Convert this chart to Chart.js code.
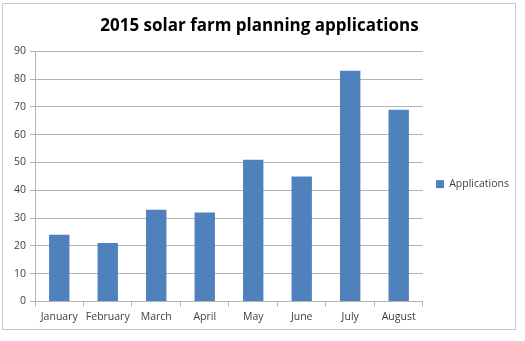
<!DOCTYPE html>
<html lang="en">
<head>
<meta charset="UTF-8">
<title>2015 solar farm planning applications</title>
<style>
  body { margin: 0; background: #fff; }
  #wrap { width: 525px; height: 341px; position: relative; }
</style>
<script src="https://cdn.jsdelivr.net/npm/chart.js"></script>
</head>
<body>
<div id="wrap"><canvas id="solarChart"></canvas></div>
<script>
// chart data
const months = ['January', 'February', 'March', 'April', 'May', 'June', 'July', 'August'];
const applications = [24, 21, 33, 32, 51, 45, 83, 69];
const seriesName = 'Applications';
const chartTitle = '2015 solar farm planning applications';

const gridGrey = '#b3b3b3';
const textGrey = '#404040';
const barBlue = '#4f81bd';

// outer frame like the spreadsheet chart border
const framePlugin = {
  id: 'frame',
  beforeDraw(chart) {
    const c = chart.ctx;
    c.save();
    c.fillStyle = '#fff';
    c.fillRect(0, 0, chart.width, chart.height);
    c.strokeStyle = '#c8c8c8';
    c.lineWidth = 1;
    c.strokeRect(2.5, 3.5, 513, 326);
    c.restore();
  }
};

const ctx = document.getElementById('solarChart').getContext('2d');
new Chart(ctx, {
  type: 'bar',
  data: {
    labels: months,
    datasets: [{
      label: seriesName,
      data: applications,
      backgroundColor: barBlue,
      borderWidth: 0,
      categoryPercentage: 0.42,
      barPercentage: 1
    }]
  },
  options: {
    responsive: true,
    maintainAspectRatio: false,
    animation: false,
    layout: { padding: { left: 0, right: 6, top: 6, bottom: 14 } },
    plugins: {
      title: {
        display: true,
        text: chartTitle,
        color: '#000',
        font: { family: 'Open Sans', size: 17, weight: 'bold' },
        padding: { top: 10, bottom: 15 }
      },
      legend: {
        position: 'right',
        title: { display: true, text: ' ', padding: { top: 28, bottom: 0 }, font: { size: 6 } },
        labels: {
          boxWidth: 8,
          boxHeight: 8,
          padding: 13,
          color: textGrey,
          font: { family: 'Open Sans', size: 10.5 }
        }
      },
      tooltip: { enabled: false }
    },
    scales: {
      x: {
        grid: { display: true, drawOnChartArea: false, drawTicks: true, tickLength: 5, color: gridGrey, offset: true },
        border: { color: gridGrey },
        ticks: { color: textGrey, font: { family: 'Open Sans', size: 10.5 }, maxRotation: 0, padding: 4 }
      },
      y: {
        min: 0,
        max: 90,
        afterFit(scale) { scale.width += 10; },
        ticks: { stepSize: 10, color: textGrey, font: { family: 'Open Sans', size: 10.5 }, padding: 4 },
        grid: { color: gridGrey, tickLength: 5 },
        border: { color: gridGrey }
      }
    }
  },
  plugins: [framePlugin]
});
</script>
</body>
</html>
